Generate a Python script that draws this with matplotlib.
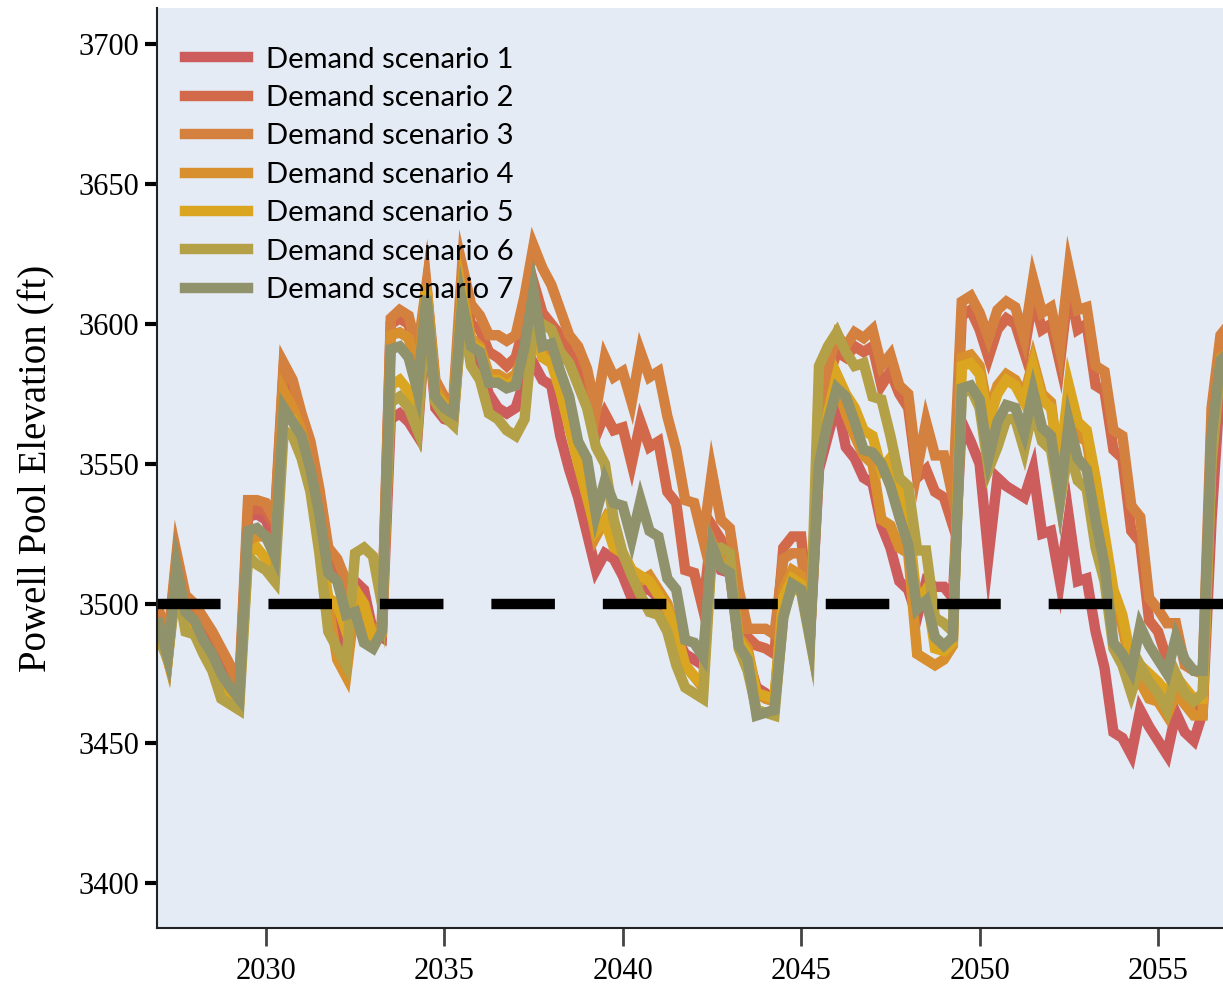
import numpy as np
import matplotlib.pyplot as plt

# Quarterly time steps, 2027.00 .. 2057.00
years = 2027 + np.arange(121) / 4

# Powell pool elevation (ft) for each demand scenario
s1 = [3494, 3482, 3514, 3499, 3496, 3489, 3485, 3477, 3472, 3467, 3531, 3532,
      3530, 3522, 3578, 3572, 3563, 3550, 3528, 3497,
      3492, 3485, 3508, 3505, 3490, 3488,
      3566, 3568, 3565, 3560,
      3604, 3570, 3566, 3565,
      3605, 3588, 3585, 3575, 3570, 3568, 3570, 3580,
      3586, 3580, 3578, 3560, 3548, 3538, 3525, 3512, 3518, 3516, 3510, 3502,
      3505, 3505, 3502, 3495, 3488, 3482, 3480, 3478,
      3520, 3512, 3511, 3486, 3481, 3470, 3468, 3465, 3500, 3510, 3508, 3489,
      3548, 3560, 3572, 3556, 3552, 3545, 3543, 3528, 3520, 3508, 3505, 3495,
      3508, 3506, 3506, 3502,
      3565, 3558, 3550, 3517, 3545, 3542, 3540, 3538, 3548, 3525, 3526,
      3508, 3531, 3508, 3509, 3490, 3477, 3454, 3452, 3446, 3462, 3456, 3451,
      3446, 3461, 3454, 3451, 3461, 3530, 3580, 3585]
s2 = [3496, 3484, 3516, 3501, 3498, 3492, 3487, 3480, 3475, 3468, 3533, 3534,
      3533, 3528, 3584, 3577, 3566, 3555, 3538, 3517,
      3512, 3504, 3498, 3492, 3487, 3492,
      3600, 3602, 3600, 3585,
      3612, 3578, 3572, 3570,
      3615, 3600, 3598, 3590, 3588, 3585, 3588, 3600,
      3615, 3604, 3600, 3596, 3590, 3584, 3578, 3560, 3568, 3562, 3563, 3550,
      3565, 3556, 3558, 3540, 3536, 3512, 3511, 3498,
      3528, 3523, 3512, 3495, 3488, 3485, 3484, 3482, 3520, 3524, 3524, 3492,
      3556, 3580, 3590, 3588, 3592, 3590, 3592, 3578, 3583, 3575, 3570, 3545,
      3548, 3540, 3538, 3528,
      3603, 3605, 3598, 3588, 3598, 3602, 3600, 3590, 3610, 3598, 3600,
      3586, 3614, 3598, 3600, 3578, 3576, 3555, 3552, 3526, 3522, 3494, 3490,
      3480, 3474, 3468, 3464, 3462, 3565, 3594, 3598]
s3 = [3498, 3486, 3518, 3503, 3500, 3495, 3490, 3484, 3478, 3470, 3537, 3537,
      3536, 3530, 3586, 3580, 3568, 3558, 3541, 3520,
      3516, 3508, 3500, 3490, 3488, 3493,
      3602, 3605, 3603, 3590,
      3614, 3580, 3574, 3572,
      3621, 3607, 3603, 3596, 3596, 3594, 3596, 3610,
      3628, 3620, 3614, 3605, 3596, 3592, 3584, 3569, 3588, 3581, 3583, 3572,
      3590, 3581, 3583, 3567, 3555, 3537, 3536, 3523,
      3547, 3530, 3527, 3505, 3491, 3491, 3491, 3489, 3516, 3518, 3518, 3495,
      3560, 3585, 3596, 3592, 3597, 3595, 3598, 3585, 3589, 3578, 3575, 3548,
      3565, 3553, 3553, 3538,
      3608, 3610, 3604, 3595, 3605, 3608, 3606, 3595, 3616, 3604, 3606,
      3591, 3620, 3605, 3606, 3585, 3583, 3562, 3560, 3535, 3531, 3502, 3498,
      3493, 3493, 3478, 3476, 3475, 3570, 3596, 3600]
s4 = [3492, 3480, 3512, 3496, 3493, 3486, 3480, 3473, 3468, 3465, 3522, 3524,
      3524, 3518, 3576, 3570, 3562, 3548, 3526, 3500,
      3480, 3474, 3500, 3498, 3486, 3489,
      3596, 3597, 3595, 3580,
      3614, 3577, 3572, 3570,
      3612, 3595, 3592, 3582, 3582, 3580, 3582, 3590,
      3605, 3590, 3588, 3578, 3565, 3552, 3540, 3524, 3530, 3522, 3518, 3512,
      3508, 3510, 3505, 3500, 3490, 3478, 3474, 3470,
      3522, 3515, 3512, 3488, 3484, 3468, 3466, 3465, 3505, 3512, 3510, 3490,
      3552, 3565, 3578, 3568, 3560, 3553, 3550, 3530, 3528, 3520, 3518, 3482,
      3480, 3478, 3480, 3485,
      3588, 3589, 3585, 3568, 3578, 3582, 3580, 3574, 3587, 3575, 3572,
      3546, 3575, 3560, 3558, 3540, 3522, 3500, 3492, 3476, 3472, 3466, 3465,
      3460, 3468, 3464, 3460, 3460, 3555, 3588, 3590]
s5 = [3491, 3480, 3511, 3495, 3492, 3485, 3479, 3472, 3468, 3465, 3518, 3520,
      3516, 3514, 3568, 3566, 3558, 3545, 3522, 3502,
      3500, 3490, 3505, 3500, 3488, 3490,
      3578, 3580, 3576, 3565,
      3612, 3575, 3571, 3569,
      3610, 3593, 3591, 3580, 3580, 3578, 3580, 3588,
      3598, 3588, 3586, 3576, 3563, 3550, 3538, 3526, 3530, 3520, 3518, 3512,
      3510, 3508, 3503, 3498, 3490, 3478, 3474, 3471,
      3521, 3514, 3512, 3487, 3482, 3468, 3467, 3466, 3502, 3509, 3507, 3489,
      3555, 3568, 3582, 3575, 3570, 3562, 3560, 3548, 3552, 3540, 3530, 3500,
      3505, 3484, 3483, 3486,
      3585, 3586, 3582, 3565, 3575, 3580, 3578, 3572, 3585, 3573, 3570,
      3550, 3578, 3565, 3562, 3545, 3525, 3505, 3496, 3480, 3478, 3475, 3472,
      3468, 3474, 3470, 3466, 3466, 3555, 3587, 3590]
s6 = [3488, 3480, 3508, 3490, 3489, 3482, 3476, 3466, 3464, 3462, 3517, 3514,
      3512, 3508, 3562, 3560, 3552, 3540, 3518, 3490,
      3484, 3478, 3518, 3520, 3517, 3500,
      3572, 3574, 3570, 3562,
      3606, 3572, 3567, 3564,
      3604, 3585, 3580, 3568, 3566, 3562, 3560, 3566,
      3600, 3600, 3598, 3590, 3586, 3578, 3570, 3556, 3550, 3530, 3518, 3510,
      3503, 3497, 3496, 3490, 3478, 3470, 3468, 3466,
      3519, 3520, 3518, 3484, 3476, 3462, 3461, 3460, 3496, 3506, 3504, 3487,
      3585, 3592, 3597, 3590, 3585, 3586, 3574, 3573, 3560, 3545, 3542, 3519,
      3519, 3495, 3493, 3490,
      3575, 3577, 3570, 3548, 3556, 3566, 3566, 3555, 3570, 3558, 3555,
      3536, 3556, 3544, 3541, 3520, 3508, 3484, 3478, 3468, 3478, 3472, 3468,
      3462, 3475, 3468, 3465, 3468, 3550, 3585, 3588]
s7 = [3493, 3481, 3513, 3497, 3494, 3487, 3482, 3475, 3470, 3466, 3526, 3527,
      3524, 3517, 3570, 3565, 3560, 3548, 3532, 3511,
      3508, 3496, 3497, 3486, 3484, 3490,
      3591, 3592, 3588, 3576,
      3610, 3574, 3570, 3568,
      3608, 3592, 3590, 3579, 3579, 3577, 3578, 3592,
      3612, 3592, 3593, 3583, 3574, 3558, 3552, 3532, 3544, 3536, 3535, 3523,
      3537, 3526, 3524, 3509, 3505, 3487, 3486, 3481,
      3521, 3513, 3511, 3485, 3480, 3460, 3461, 3462, 3495, 3507, 3505, 3488,
      3550, 3565, 3577, 3574, 3565, 3555, 3554, 3550, 3542, 3531, 3521, 3498,
      3501, 3488, 3485, 3488,
      3577, 3578, 3573, 3552, 3565, 3571, 3570, 3561, 3576, 3563, 3560,
      3538, 3565, 3552, 3548, 3530, 3514, 3486, 3482, 3476, 3492, 3485, 3480,
      3475, 3488, 3480, 3476, 3476, 3560, 3587, 3590]

series = [s1, s2, s3, s4, s5, s6, s7]
labels = [f"Demand scenario {i}" for i in range(1, 8)]
colors = ["#CD5C5C", "#D2694B", "#D4803E", "#D88F2D", "#DAA520", "#B4A046", "#8F926B"]

threshold = 3500

fig = plt.figure(figsize=(12.23, 9.88), dpi=100)
ax = fig.add_axes([157 / 1223, 60 / 988, 1 - 157 / 1223, 920 / 988])
ax.set_facecolor("#E4EBF5")

for vals, lab, col in zip(series, labels, colors):
    ax.plot(years, vals, color=col, lw=7.5, label=lab, solid_joinstyle="miter")

ax.axhline(threshold, color="black", lw=7.5, dashes=(6.1, 4.6))

ax.set_xlim(2026.95, 2056.82)
ax.set_ylim(3384, 3713)
ax.set_xticks([2030, 2035, 2040, 2045, 2050, 2055])
ax.set_yticks([3400, 3450, 3500, 3550, 3600, 3650, 3700])

for side in ["top", "right"]:
    ax.spines[side].set_visible(False)
for side in ["left", "bottom"]:
    ax.spines[side].set_linewidth(1.5)
    ax.spines[side].set_color("#222222")

ax.tick_params(axis="y", length=9, width=3, color="black", pad=4)
ax.tick_params(axis="x", length=13, width=2, color="#444444", pad=8)
for t in ax.get_xticklabels() + ax.get_yticklabels():
    t.set_fontfamily("Liberation Serif")
    t.set_fontsize(22)

ax.set_ylabel("Powell Pool Elevation (ft)", fontfamily="Liberation Serif",
              fontsize=28, labelpad=16)

leg = ax.legend(loc="upper left", bbox_to_anchor=(0.0153, 0.9707),
                frameon=False, handlelength=2.16, handletextpad=0.62,
                labelspacing=0.425, borderaxespad=0,
                prop={"family": "Lato", "size": 21})
for h in leg.get_lines():
    h.set_linewidth(7.5)

fig.savefig("out.png", dpi=100)
